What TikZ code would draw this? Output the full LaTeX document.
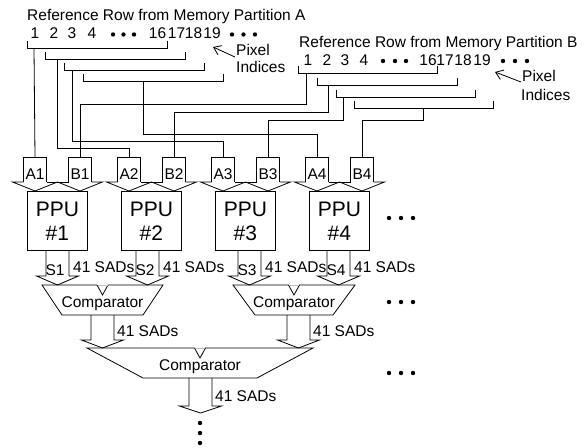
\documentclass[tikz,border=0pt]{standalone}
\usepackage{fontspec}
\setmainfont{Liberation Sans}
\usetikzlibrary{arrows.meta}

% hollow block arrow pointing down: #1 centre x, #2 shaft top, #3 shoulder, #4 tip
\newcommand\fatdown[4]{%
  \draw[wire] ({#1-11.5},#2) -- ({#1-11.5},#3) -- ({#1-21},#3) -- (#1,#4)
    -- ({#1+21},#3) -- ({#1+11.5},#3) -- ({#1+11.5},#2);}

% comparator trapezoid with a notch: #1 centre x, #2 top, #3 bottom, #4/#5 half widths
\newcommand\cmpshape[5]{%
  \draw[wire] ({#1-5.5},#2) -- ({#1-#4},#2) -- ({#1-#5},#3) -- ({#1+#5},#3)
    -- ({#1+#4},#2) -- ({#1+5.5},#2) -- (#1,{#2+10}) -- ({#1-5.5},#2);
  \draw[black!25, line width=0.8pt] ({#1-5},#2) -- ({#1+5},#2);}

\begin{document}
\begin{tikzpicture}[x=1pt,y=-1pt,
  wire/.style={line width=0.8pt, line join=miter},
  lab/.style={font=\fontsize{15.5}{18}\selectfont, inner sep=0pt, anchor=base west},
  num/.style={font=\fontsize{15.5}{18}\selectfont, inner sep=0pt, anchor=base},
  ppu/.style={draw, line width=0.8pt, minimum width=60pt, minimum height=59pt,
    inner sep=0pt, align=center, font=\fontsize{21}{24}\selectfont},
  bul/.style={circle, fill, inner sep=0pt, minimum size=4.4pt},
  barb/.style={wire, -{Straight Barb[length=7pt,width=10pt]}},
]
\useasboundingbox (0,0) rectangle (585,447);

% ---- row titles ----
\node[lab] (titleA) at (27,20) {Reference Row from Memory Partition A};
\node[lab] (titleB) at (299,47) {Reference Row from Memory Partition B};

% ---- pixel indices, partition A ----
\foreach \t/\x [count=\k] in {1/35,2/54,3/72,4/92,16/157.5,17/176.5,18/193.5,19/212}
  \node[num] (na\k) at (\x,38) {\t};
\foreach \x [count=\k] in {113,123.5,134,232,243.5,255}
  \node[bul] (da\k) at (\x,34.5) {};

% ---- pixel indices, partition B ----
\foreach \t/\x [count=\k] in {1/308,2/327,3/345,4/364,16/428,17/445,18/463,19/482}
  \node[num] (nb\k) at (\x,65) {\t};
\foreach \x [count=\k] in {383,395,406,503,515,527}
  \node[bul] (db\k) at (\x,61) {};

% ---- "Pixel Indices" callouts ----
\node[lab] (pixA) at (236,55) {Pixel};
\node[lab] (indA) at (236,72) {Indices};
\coordinate (pixAtail) at (235,57);
\coordinate (pixAtip) at (213,47);
\draw[barb] (pixAtail) -- (pixAtip);

\node[lab] (pixB) at (522,81) {Pixel};
\node[lab] (indB) at (521,100) {Indices};
\coordinate (pixBtail) at (521,82);
\coordinate (pixBtip) at (495,72);
\draw[barb] (pixBtail) -- (pixBtip);

% ---- 16-pixel windows (brackets) ----
\foreach \l/\r/\y in {27/167/48, 45/185/59, 64/204/70, 83/223/81,
                      298/437/73, 317/457/85, 336/475/97, 354/493/108}
  \draw[wire] (\l,{\y-7}) -- (\l,\y) -- (\r,\y) -- (\r,{\y-7});

\coordinate (dropA1) at (34,48);
\coordinate (dropA2) at (57,59);
\coordinate (dropA3) at (72,70);
\coordinate (dropA4) at (143,81);
\coordinate (dropB1) at (306,73);
\coordinate (dropB2) at (328,85);
\coordinate (dropB3) at (343,97);
\coordinate (dropB4) at (423,108);

% ---- PPUs with their paired input arrows ----
\foreach \L [count=\i] in {27,121,215,309} {
  \pgfmathsetmacro\a{\L+8}
  \pgfmathsetmacro\b{\L+53}
  \pgfmathsetmacro\m{\L+30.5}
  \coordinate (inA\i) at (\a,157);
  \coordinate (inB\i) at (\b,157);
  % shafts
  \draw[wire] ({\a-11.5},182) -- ({\a-11.5},157) -- ({\a+11.5},157) -- ({\a+11.5},182);
  \draw[wire] ({\b-11.5},182) -- ({\b-11.5},157) -- ({\b+11.5},157) -- ({\b+11.5},182);
  % joined heads
  \draw[wire] ({\a-11.5},182) -- ({\a-22.5},182) -- (\a,191) -- (\m,182)
    -- (\b,191) -- ({\b+22.5},182) -- ({\b+11.5},182);
  \draw[wire] ({\a+11.5},182) -- ({\b-11.5},182);
  \node[num] (labA\i) at (\a,179) {A\i};
  \node[num] (labB\i) at (\b,179) {B\i};
  \node[ppu, anchor=north west] (ppu\i) at (\L,191) {PPU\\\#\i};
}

% ---- feeds from the windows to the PPU inputs ----
\draw[wire] (dropA1) -- (inA1);
\draw[wire] (dropA2) -- ++(0,89) -| (inA2);
\draw[wire] (dropA3) -- ++(0,71) -| (inA3);
\draw[wire] (dropA4) -- ++(0,53) -| (inA4);
\draw[wire] (dropB1) -- ++(0,31) -| (inB1);
\draw[wire] (dropB2) -- ++(0,27) -| (inB2);
\draw[wire] (dropB3) -- ++(0,23) -| (inB3);
\draw[wire] (dropB4) -- ++(0,12) -| (inB4);

% ---- PPU outputs ----
\foreach \s [count=\i] in {57.5,147.5,249.5,338.5} {
  \fatdown{\s}{250}{276}{285}
  \node[num] (labS\i) at ({\s-2.5},275) {S\i};
  \node[lab] (sad\i) at ({\s+15.5},272) {41 SADs};
}

% ---- first comparator stage ----
\cmpshape{102.5}{285}{315}{60.5}{40.5}
\node[num] (cmp1) at (102.5,307) {Comparator};
\cmpshape{294}{285}{315}{61}{39}
\node[num] (cmp2) at (294,307) {Comparator};

\fatdown{102.5}{315}{340}{348}
\node[lab] (sadc1) at (117,336) {41 SADs};
\fatdown{298.5}{315}{340}{348}
\node[lab] (sadc2) at (313,336) {41 SADs};

% ---- second comparator stage ----
\cmpshape{200}{348}{378}{113}{57}
\node[num] (cmp3) at (200,370) {Comparator};
\fatdown{200.5}{378}{406}{413}
\node[lab] (sadc3) at (215,401) {41 SADs};

% ---- continuation dots ----
\foreach \y [count=\k] in {423,433,443}
  \node[bul] (dv\k) at (200,\y) {};
\foreach \y [count=\r] in {218,302,373}
  \foreach \x [count=\k] in {389,401,413}
    \node[bul] (dh\r\k) at (\x,\y) {};

\end{tikzpicture}
\end{document}
